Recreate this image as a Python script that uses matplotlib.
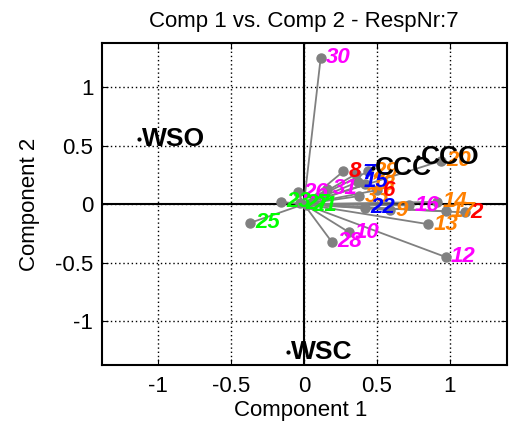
import matplotlib
matplotlib.use("Agg")
import matplotlib.pyplot as plt

plt.rcParams['font.family'] = ['Liberation Sans', 'DejaVu Sans']

# response points (component 1, component 2), label and colour group
labels = ['30', '26', '31', '10', '28', '16', '12',
          '25', '23', '27', '21',
          '20', '9', '14', '13', '17', '33', '18', '29',
          '22', '7', '15',
          '8', '6', '2']
comp1 = [0.115, -0.04, 0.16, 0.31, 0.19, 0.72, 0.97,
         -0.37, -0.16, -0.03, 0.02,
         0.94, 0.59, 0.91, 0.85, 0.97, 0.38, 0.42, 0.44,
         0.42, 0.36, 0.37,
         0.27, 0.50, 1.10]
comp2 = [1.25, 0.10, 0.13, -0.24, -0.32, -0.01, -0.45,
         -0.16, 0.02, 0.01, -0.01,
         0.37, -0.05, 0.02, -0.17, -0.06, 0.07, 0.17, 0.28,
         -0.03, 0.26, 0.19,
         0.28, 0.12, -0.07]
groups = ['m'] * 7 + ['g'] * 4 + ['o'] * 8 + ['b'] * 3 + ['r'] * 3
group_colors = {'m': '#ff00ff', 'g': '#00ff00', 'o': '#ff8000',
                'b': '#0000ff', 'r': '#ff0000'}

# attribute points
attr_names = ['WSO', 'WSC', 'CCO', 'CCC']
attr_x = [-1.13, -0.11, 0.78, 0.47]
attr_y = [0.56, -1.26, 0.40, 0.31]

fig = plt.figure(figsize=(5.21, 4.29), dpi=100)
ax = fig.add_axes([0.195, 0.149, 0.778, 0.751])

ax.axhline(0, color='black', lw=1.5, zorder=1)
ax.axvline(0, color='black', lw=1.5, zorder=1)

for x, y in zip(comp1, comp2):
    ax.plot([0, x], [0, y], color='#808080', lw=1.3, zorder=2)
ax.plot(comp1, comp2, 'o', color='#808080', ms=6.5, zorder=3)

for x, y, t, g in zip(comp1, comp2, labels, groups):
    ax.annotate(t, (x, y), xytext=(4, 0), textcoords='offset points',
                color=group_colors[g], fontsize=16, fontstyle='italic',
                fontweight='bold', ha='left', va='center', zorder=4)

ax.plot(attr_x, attr_y, '.', color='black', ms=4, zorder=5)
for x, y, t in zip(attr_x, attr_y, attr_names):
    ax.annotate(t, (x, y), xytext=(2, 0), textcoords='offset points',
                color='black', fontsize=19, fontweight='bold',
                ha='left', va='center', zorder=5)

ax.set_xlim(-1.385, 1.39)
ax.set_ylim(-1.372, 1.376)
ax.set_xticks([-1, -0.5, 0, 0.5, 1])
ax.set_yticks([-1, -0.5, 0, 0.5, 1])
ax.set_xticklabels(['-1', '-0.5', '0', '0.5', '1'])
ax.set_yticklabels(['-1', '-0.5', '0', '0.5', '1'])
ax.grid(True, color='black', linestyle=(0, (1, 2)), lw=1)
ax.tick_params(direction='in', top=True, right=True, labelsize=16, length=4)
ax.tick_params(axis='x', pad=8)
ax.tick_params(axis='y', pad=6)
for s in ax.spines.values():
    s.set_linewidth(1.5)

ax.set_xlabel('Component 1', fontsize=16)
ax.set_ylabel('Component 2', fontsize=16)
ax.xaxis.set_label_coords(0.49, -0.109)
ax.yaxis.set_label_coords(-0.152, 0.5)
ax.set_title('Comp 1 vs. Comp 2 - RespNr:7', fontsize=16, pad=11.5)

fig.savefig('out.png', dpi=100)
